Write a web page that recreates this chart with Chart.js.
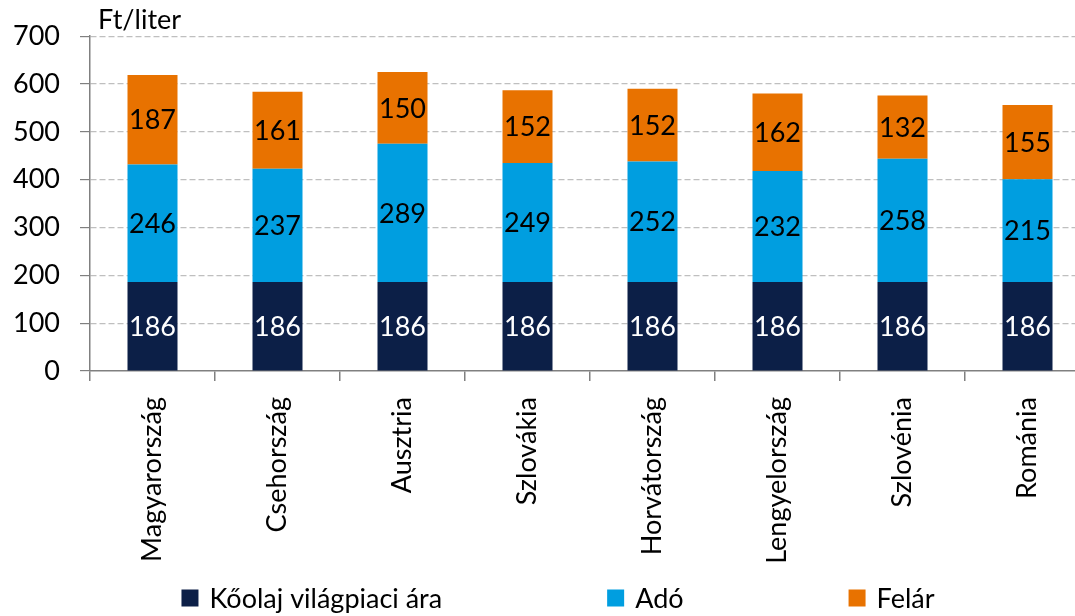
<!DOCTYPE html>
<html>
<head>
<meta charset="utf-8">
<script src="https://cdn.jsdelivr.net/npm/chart.js@4.4.1/dist/chart.umd.min.js"></script>
<style>
html,body{margin:0;padding:0;background:#fff;overflow:hidden;}
#wrap{width:1090px;height:616px;position:relative;}
</style>
</head>
<body>
<div id="wrap"><canvas id="c"></canvas></div>
<script>
const categories = ['Magyarország','Csehország','Ausztria','Szlovákia','Horvátország','Lengyelország','Szlovénia','Románia'];
const oilPrice = [186,186,186,186,186,186,186,186];
const tax = [246,237,289,249,252,232,258,215];
const margin = [187,161,150,152,152,162,132,155];
const seriesNames = ['Kőolaj világpiaci ára','Adó','Felár'];
const seriesColors = ['#0c1f47','#009ee0','#e87200'];
const unitLabel = 'Ft/liter';

const FONT = 'Lato, "Open Sans", sans-serif';
const FS = 27;

const labelPlugin = {
  id: 'segLabels',
  afterDatasetsDraw(chart) {
    const ctx = chart.ctx;
    ctx.save();
    ctx.font = FS + 'px ' + FONT;
    ctx.textAlign = 'center';
    ctx.textBaseline = 'middle';
    chart.data.datasets.forEach((ds, di) => {
      const meta = chart.getDatasetMeta(di);
      meta.data.forEach((bar, i) => {
        const p = bar.getProps(['x','y','base'], true);
        ctx.fillStyle = di === 0 ? '#ffffff' : '#000000';
        ctx.fillText(String(ds.data[i]), p.x, (p.y + p.base) / 2 + 1);
      });
    });
    // unit label
    ctx.textAlign = 'left';
    ctx.fillStyle = '#000';
    ctx.fillText(unitLabel, chart.chartArea.left + 8, 20);
    ctx.restore();
  }
};

const legendPlugin = {
  id: 'spreadLegend',
  afterDraw(chart) {
    const ctx = chart.ctx;
    ctx.save();
    ctx.font = FS + 'px ' + FONT;
    ctx.textBaseline = 'middle';
    ctx.textAlign = 'left';
    const box = 17, gapBT = 11, gap = 165;
    const items = chart.data.datasets.map(ds => ({text: ds.label, color: ds.backgroundColor, w: ctx.measureText(ds.label).width}));
    const total = items.reduce((a, it) => a + box + gapBT + it.w, 0) + gap * (items.length - 1);
    let x = 558 - total / 2;
    const y = 598;
    items.forEach(it => {
      ctx.fillStyle = it.color;
      ctx.fillRect(x, y - box / 2, box, box);
      ctx.fillStyle = '#000';
      ctx.fillText(it.text, x + box + gapBT, y + 1);
      x += box + gapBT + it.w + gap;
    });
    ctx.restore();
  }
};

new Chart(document.getElementById('c'), {
  type: 'bar',
  data: {
    labels: categories,
    datasets: [
      {label: seriesNames[0], data: oilPrice, backgroundColor: seriesColors[0]},
      {label: seriesNames[1], data: tax, backgroundColor: seriesColors[1]},
      {label: seriesNames[2], data: margin, backgroundColor: seriesColors[2]}
    ]
  },
  options: {
    responsive: true,
    maintainAspectRatio: false,
    animation: false,
    layout: {padding: {top: 24, right: 0, left: 0, bottom: 45}},
    datasets: {bar: {barPercentage: 0.8, categoryPercentage: 0.5}},
    plugins: {
      legend: {display: false},
      tooltip: {enabled: false}
    },
    scales: {
      x: {
        stacked: true,
        grid: {display: true, drawOnChartArea: false, drawTicks: true, tickLength: 10, color: '#808080', lineWidth: 1.5},
        border: {display: true, color: '#808080', width: 1.5},
        ticks: {font: {family: FONT, size: FS}, color: '#000', maxRotation: 90, minRotation: 90, padding: 16},
        afterFit(s) { s.height = 200; }
      },
      y: {
        stacked: true,
        min: 0, max: 700,
        ticks: {stepSize: 100, autoSkip: false, font: {family: FONT, size: FS}, color: '#000', padding: 20},
        grid: {
          color: (c) => (c.tick && c.tick.value === 0) ? 'rgba(0,0,0,0)' : '#bfbfbf',
          tickColor: '#808080',
          lineWidth: 1.2,
          tickLength: 10
        },
        border: {display: true, color: '#808080', width: 1.5, dash: [6, 3]},
        afterFit(s) { s.width = 90; }
      }
    }
  },
  plugins: [labelPlugin, legendPlugin]
});
</script>
</body>
</html>
